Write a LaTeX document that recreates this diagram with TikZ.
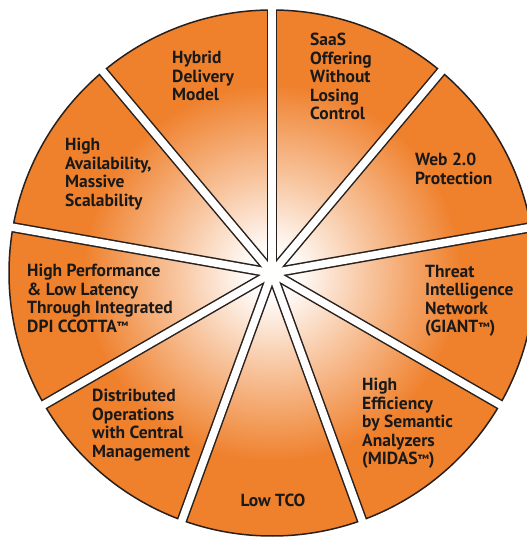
\documentclass[tikz,border=0pt]{standalone}
\usepackage{fontspec}
\setmainfont{PT Sans}
\definecolor{pieorange}{RGB}{239,128,44}
\definecolor{pieline}{RGB}{40,32,28}
\pgfdeclareradialshading{pieshade}{\pgfpoint{0bp}{0bp}}{color(0bp)=(white); color(2bp)=(white); color(9bp)=(pieorange!45); color(18bp)=(pieorange); color(50bp)=(pieorange)}
\newcommand{\tmark}{\raisebox{1.5pt}{\fontsize{12}{12}\selectfont ™}}

\begin{document}
\begin{tikzpicture}[x = 1pt, y = 1pt, font = \bfseries\fontsize{17.5}{18.5}\selectfont,
    every node/.style = {align = left, text = black!90, inner sep = 0pt, anchor = north west}]
    \useasboundingbox (0,0) rectangle (527,539);
    \clip (0,0) rectangle (527,539);
    \coordinate (C) at (272,266);
    \shade[shading = pieshade] (C) circle (263);
    \begin{scope}
        \clip (C) circle (263);
        \foreach \a in {90,50,...,-230}
            \draw[pieline, line width = 10.5] (C) -- ++(\a:280);
    \end{scope}
    \draw[pieline, line width = 1.5] (C) circle (263);
    \foreach \a in {90,50,...,-230}
        \draw[white, line width = 7.5] (C) -- ++(\a:290);
    \node (hybrid) at (172,488) {Hybrid\\Delivery\\Model};
    \node (saas) at (310,506) {SaaS\\Offering\\Without\\Losing\\Control};
    \node (web) at (415,386) {Web 2.0\\Protection};
    \node (threat) at (425,274) {Threat\\Intelligence\\Network\\(GIANT\tmark)};
    \node (midas) at (362,161) {High\\Efficiency\\by Semantic\\Analyzers\\(MIDAS\tmark)};
    \node[anchor = center] (tco) at (273,39) {Low TCO};
    \node (distributed) at (92,150) {Distributed\\Operations\\with Central\\Management};
    \node (performance) at (27,275) {High Performance\\\& Low Latency\\Through Integrated\\DPI CCOTTA\tmark};
    \node (availability) at (65,401) {High\\Availability,\\Massive\\Scalability};
\end{tikzpicture}
\end{document}
